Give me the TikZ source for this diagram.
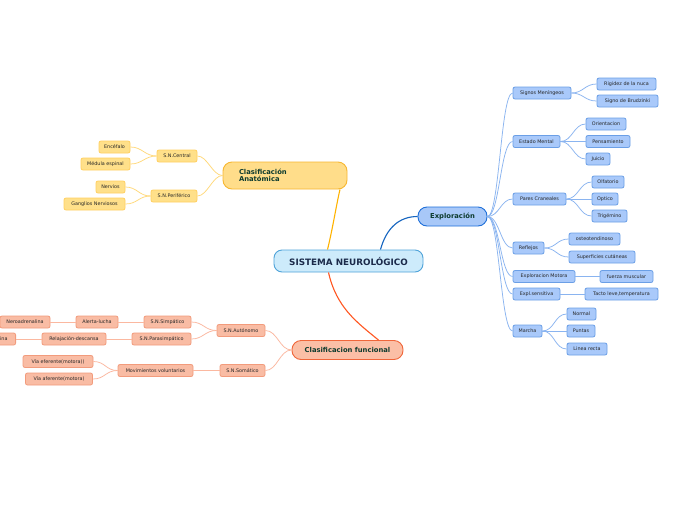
\documentclass[tikz,border=0pt]{standalone}
\usepackage{fontspec}
\setmainfont{DejaVu Sans}
\begin{document}
\begin{tikzpicture}[x=1pt,y=-1pt]
\definecolor{txt}{HTML}{262626}
\definecolor{maintxt}{HTML}{0D3B2E}
\definecolor{centxt}{HTML}{1B2A4A}
\definecolor{cenfill}{HTML}{CDEBFB}
\definecolor{cendraw}{HTML}{4FA3D9}
\definecolor{anfill}{HTML}{FFDD8A}
\definecolor{andraw}{HTML}{F7B731}
\definecolor{ansub}{HTML}{FFE08A}
\definecolor{ansubd}{HTML}{FFD060}
\definecolor{anline}{HTML}{FFD97A}
\definecolor{anmain}{HTML}{FFB300}
\definecolor{fufill}{HTML}{FBBFA6}
\definecolor{fudraw}{HTML}{F0663A}
\definecolor{fusub}{HTML}{F9BCA4}
\definecolor{fusubd}{HTML}{F29B7C}
\definecolor{fuline}{HTML}{FBB8A0}
\definecolor{fumain}{HTML}{FF5722}
\definecolor{exfill}{HTML}{A8C8F8}
\definecolor{exdraw}{HTML}{1E6FD9}
\definecolor{exsub}{HTML}{A9C9FA}
\definecolor{exsubd}{HTML}{6B9FE6}
\definecolor{exline}{HTML}{8AB4F0}
\definecolor{exmain}{HTML}{1565C0}
\tikzset{
  base/.style={draw, rounded corners=2pt, line width=0.8pt, font=\fontsize{4.85}{5.5}\selectfont, text=txt, inner sep=0pt, minimum height=12pt, align=center},
  exn/.style={base, fill=exsub, draw=exsubd},
  ann/.style={base, fill=ansub, draw=ansubd},
  fun/.style={base, fill=fusub, draw=fusubd},
  mainn/.style={draw, rounded corners=9pt, line width=0.9pt, font=\fontsize{6.8}{7.6}\selectfont\bfseries, text=maintxt, inner sep=0pt, align=center},
  exl/.style={draw=exline, line width=0.75pt},
  anl/.style={draw=anline, line width=0.75pt},
  ful/.style={draw=fuline, line width=0.75pt},
}
\useasboundingbox (0,0) rectangle (696,520);
\clip (0,0) rectangle (696,520);
\fill[white] (0,0) rectangle (696,520);

% central
\node[draw=cendraw, fill=cenfill, rounded corners=8pt, line width=0.9pt, minimum width=149pt, minimum height=22pt, inner sep=0pt, font=\fontsize{8.8}{10}\selectfont\bfseries, text=centxt] (cen) at (348.5,261) {SISTEMA NEUROLÓGICO};

% main nodes
\node[mainn, fill=anfill, draw=andraw, minimum width=124pt, minimum height=27pt, text width=92pt, align=left] (anat) at (285,175.5) {Clasificación\\[-1pt]Anatómica};
\node[mainn, fill=fufill, draw=fudraw, minimum width=111pt, minimum height=19pt] (func) at (347.5,350) {Clasificacion funcional};
\node[mainn, fill=exfill, draw=exdraw, minimum width=69pt, minimum height=19pt] (expl) at (452.5,216.5) {Exploración};

\draw[anmain, line width=1.1pt] ([xshift=-21pt]cen.north) .. controls +(5,-20) and +(-3,12) .. ([xshift=55pt]anat.south);
\draw[exmain, line width=1.1pt] ([xshift=32pt]cen.north) .. controls +(6,-22) and +(-18,0) .. (expl.west);
\draw[fumain, line width=1.1pt] ([xshift=-20pt]cen.south) .. controls +(8,35) and +(-22,-18) .. ([xshift=31pt]func.north);

% anatomy branch
\node[ann, minimum width=40pt] (snc) at (177,156) {S.N.Central};
\node[ann, minimum width=31pt] (ence) at (114.5,147) {Encéfalo};
\node[ann, minimum width=49pt] (medu) at (105.5,164) {Médula espinal};
\node[ann, minimum width=46pt] (snp) at (174,196) {S.N.Periférico};
\node[ann, minimum width=29pt] (nerv) at (110.5,187) {Nervios};
\node[ann, minimum width=61pt] (gang) at (94.5,204) {Ganglios Nerviosos};
\draw[anl] (anat.west) .. controls +(-10,0) and +(10,0) .. (snc.east);
\draw[anl] (anat.west) .. controls +(-10,0) and +(10,0) .. (snp.east);
\draw[anl] (snc.west) .. controls +(-12,0) and +(12,0) .. (ence.east);
\draw[anl] (snc.west) .. controls +(-12,0) and +(12,0) .. (medu.east);
\draw[anl] (snp.west) .. controls +(-12,0) and +(12,0) .. (nerv.east);
\draw[anl] (snp.west) .. controls +(-12,0) and +(12,0) .. (gang.east);

% functional branch
\node[fun, minimum width=48pt] (auto) at (241,330.5) {S.N.Autónomo};
\node[fun, minimum width=47pt] (simp) at (167.5,322) {S.N.Simpático};
\node[fun, minimum width=42pt] (aler) at (97,322) {Alerta-lucha};
\node[fun, minimum width=50pt] (nora) at (25,322) {Neroadrenalina};
\node[fun, minimum width=59pt] (para) at (161.5,339) {S.N.Parasimpático};
\node[fun, minimum width=64pt] (rela) at (74,339) {Relajación-descansa};
\node[fun, minimum width=44pt, anchor=east] (acet) at (16,339) {Acetilcolina};
\node[fun, minimum width=45pt] (soma) at (242.5,370.5) {S.N.Somático};
\node[fun, minimum width=75pt] (movi) at (155.5,370.5) {Movimientos voluntarios};
\node[fun, minimum width=70pt] (vef) at (58,361.5) {Vía eferente(motora))};
\node[fun, minimum width=67pt] (vaf) at (59,379) {Vía aferente(motora)};
\draw[ful] (func.west) .. controls +(-12,0) and +(12,0) .. (auto.east);
\draw[ful] (func.west) .. controls +(-12,0) and +(12,0) .. (soma.east);
\draw[ful] (auto.west) .. controls +(-12,0) and +(12,0) .. (simp.east);
\draw[ful] (auto.west) .. controls +(-12,0) and +(12,0) .. (para.east);
\draw[ful] (simp.west) -- (aler.east);
\draw[ful] (aler.west) -- (nora.east);
\draw[ful] (para.west) -- (rela.east);
\draw[ful] (rela.west) -- (acet.east);
\draw[ful] (soma.west) -- (movi.east);
\draw[ful] (movi.west) .. controls +(-12,0) and +(12,0) .. (vef.east);
\draw[ful] (movi.west) .. controls +(-12,0) and +(12,0) .. (vaf.east);

% exploration branch
\node[exn, minimum width=58pt] (sm) at (542,93) {Signos Meníngeos};
\node[exn, minimum width=59pt] (rig) at (626.5,84) {Rigidez de la nuca};
\node[exn, minimum width=61pt] (bru) at (627.5,101) {Signo de Brudzinki};
\node[exn, minimum width=47pt] (em) at (536.5,141.5) {Estado Mental};
\node[exn, minimum width=40pt] (ori) at (606,124) {Orientacion};
\node[exn, minimum width=44pt] (pen) at (608,141.5) {Pensamiento};
\node[exn, minimum width=24pt] (jui) at (598,159) {Juicio};
\node[exn, minimum width=53pt] (pc) at (539.5,199) {Pares Craneales};
\node[exn, minimum width=32pt] (olf) at (608,182) {Olfatorio};
\node[exn, minimum width=26pt] (opt) at (605,199) {Optico};
\node[exn, minimum width=35pt] (tri) at (609.5,216) {Trigémino};
\node[exn, minimum width=31pt] (ref) at (528.5,248) {Reflejos};
\node[exn, minimum width=51pt] (ost) at (594.5,239) {osteotendinoso};
\node[exn, minimum width=66pt] (sup) at (602,257) {Superficies cutáneas};
\node[exn, minimum width=62pt] (mot) at (544,276.5) {Exploracion Motora};
\node[exn, minimum width=53pt] (fue) at (626.5,276.5) {fuerza muscular};
\node[exn, minimum width=47pt] (sen) at (536.5,294) {Expl.sensitiva};
\node[exn, minimum width=73pt] (tac) at (621.5,294) {Tacto leve,temperatura};
\node[exn, minimum width=29pt] (mar) at (527.5,331) {Marcha};
\node[exn, minimum width=29pt] (nor) at (581.5,314) {Normal};
\node[exn, minimum width=28pt] (pun) at (581,331) {Puntas};
\node[exn, minimum width=40pt] (lin) at (587,349) {Linea recta};

\foreach \c in {sm,em,pc,ref,mot,sen,mar}{
  \draw[exl] (expl.east) .. controls +(12,0) and +(-12,0) .. (\c.west);
}
\draw[exl] (sm.east) .. controls +(12,0) and +(-12,0) .. (rig.west);
\draw[exl] (sm.east) .. controls +(12,0) and +(-12,0) .. (bru.west);
\draw[exl] (em.east) .. controls +(12,0) and +(-12,0) .. (ori.west);
\draw[exl] (em.east) -- (pen.west);
\draw[exl] (em.east) .. controls +(12,0) and +(-12,0) .. (jui.west);
\draw[exl] (pc.east) .. controls +(12,0) and +(-12,0) .. (olf.west);
\draw[exl] (pc.east) -- (opt.west);
\draw[exl] (pc.east) .. controls +(12,0) and +(-12,0) .. (tri.west);
\draw[exl] (ref.east) .. controls +(12,0) and +(-12,0) .. (ost.west);
\draw[exl] (ref.east) .. controls +(12,0) and +(-12,0) .. (sup.west);
\draw[exl] (mot.east) -- (fue.west);
\draw[exl] (sen.east) -- (tac.west);
\draw[exl] (mar.east) .. controls +(12,0) and +(-12,0) .. (nor.west);
\draw[exl] (mar.east) -- (pun.west);
\draw[exl] (mar.east) .. controls +(12,0) and +(-12,0) .. (lin.west);
\end{tikzpicture}
\end{document}
